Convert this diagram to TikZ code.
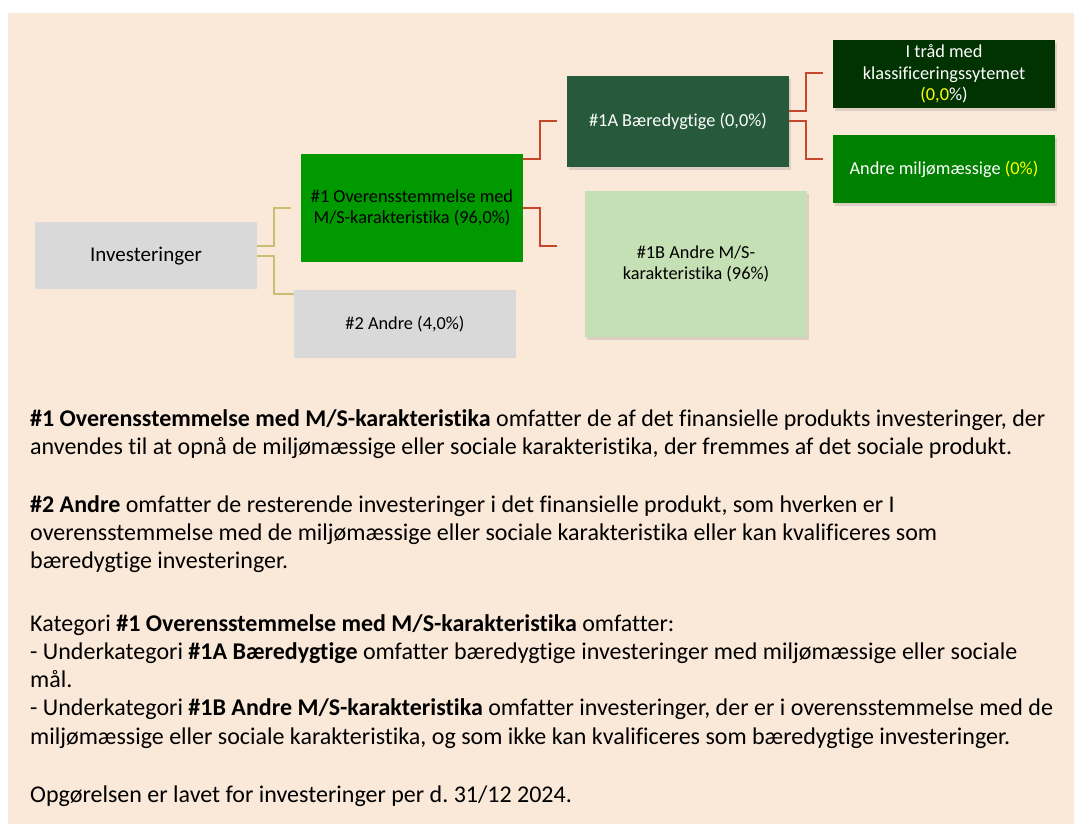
\documentclass[tikz,border=0pt]{standalone}
\usepackage{fontspec}
\setmainfont{Carlito}[Ligatures={NoCommon}]
\usetikzlibrary{shadows}
\definecolor{bg}{HTML}{FAE9D9}
\definecolor{greyb}{HTML}{D9D9D9}
\definecolor{gone}{HTML}{009900}
\definecolor{gonea}{HTML}{265A3B}
\definecolor{goneb}{HTML}{C5E0B4}
\definecolor{gtr}{HTML}{013300}
\definecolor{gam}{HTML}{008000}
\definecolor{redc}{HTML}{C8472C}
\definecolor{yelc}{HTML}{CBBE74}
\definecolor{yeltxt}{HTML}{FFFF00}
\frenchspacing
\begin{document}
\begin{tikzpicture}[x=1pt,y=-1pt,
  box/.style={rectangle, inner sep=0pt, minimum width=222pt, align=center,
    font=\fontsize{18.3}{21.5}\selectfont},
  shad/.style={drop shadow={shadow xshift=2pt,shadow yshift=-3pt,opacity=0.2,fill=black!60}},
  rconn/.style={draw=redc, line width=2pt},
  yconn/.style={draw=yelc, line width=1.6pt},
  body/.style={anchor=base west, inner sep=0pt, font=\fontsize{24}{28}\selectfont}]
\useasboundingbox (0,0) rectangle (1074,824);
\fill[bg] (8,13) rectangle (1074,824);

% boxes
\node[box, fill=greyb, minimum height=67.3pt, font=\fontsize{21}{25}\selectfont] (inv) at (146,255.7) {Investeringer};
\node[box, fill=gone, minimum height=108pt] (one) at (412,208) {\#1 Overensstemmelse med\\M/S-karakteristika (96,0\%)};
\node[box, fill=greyb, minimum height=68pt] (two) at (405,324) {\#2 Andre (4,0\%)};
\node[box, shad, fill=gonea, text=white, minimum height=91pt] (onea) at (678,121.5) {\#1A Bæredygtige (0,0\%)};
\node[box, shad, fill=goneb, minimum height=146pt] (oneb) at (696,264) {\#1B Andre M/S-\\karakteristika (96\%)};
\node[box, shad, fill=gtr, text=white, minimum height=68pt] (trad) at (944,74) {I tråd med\\klassificeringssytemet\\\textcolor{yeltxt}{(0,0}\%)};
\node[box, shad, fill=gam, text=white, minimum height=68pt] (andm) at (944,169) {Andre miljømæssige \textcolor{yeltxt}{(0\%)}};

% connector ends
\coordinate (eone) at (291,208);
\coordinate (eonea) at (557,121);
\coordinate (eoneb) at (557,246);
\coordinate (etrad) at (823,73);
\coordinate (eandm) at (823,159);

% connectors
\draw[yconn] (inv.east |- 0,246) -| (274,208) -- (eone);
\draw[yconn] (inv.east |- 0,256) -| (274,294) -- (two.west |- 0,294);
\draw[rconn] (one.east |- 0,159) -| (540,121) -- (eonea);
\draw[rconn] (one.east |- 0,208) -| (540,246) -- (eoneb);
\draw[rconn] (onea.east |- 0,111) -| (806,73) -- (etrad);
\draw[rconn] (onea.east |- 0,121) -| (806,159) -- (eandm);

% body text
\node[body] (t1) at (30,426) {\textbf{\#1 Overensstemmelse med M/S-karakteristika} omfatter de af det finansielle produkts investeringer, der};
\node[body] (t2) at (30,454) {anvendes til at opnå de miljømæssige eller sociale karakteristika, der fremmes af det sociale produkt.};
\node[body] (t3) at (30,512.7) {\textbf{\#2 Andre} omfatter de resterende investeringer i det finansielle produkt, som hverken er I};
\node[body] (t4) at (30,540.3) {overensstemmelse med de miljømæssige eller sociale karakteristika eller kan kvalificeres som};
\node[body] (t5) at (30,568.3) {bæredygtige investeringer.};
\node[body] (t6) at (30,631) {Kategori \textbf{\#1 Overensstemmelse med M/S-karakteristika} omfatter:};
\node[body] (t7) at (30,659) {- Underkategori \textbf{\#1A Bæredygtige} omfatter bæredygtige investeringer med miljømæssige eller sociale};
\node[body] (t8) at (30,687.3) {mål.};
\node[body] (t9) at (30,715.7) {- Underkategori \textbf{\#1B Andre M/S-karakteristika} omfatter investeringer, der er i overensstemmelse med de};
\node[body] (t10) at (30,744) {miljømæssige eller sociale karakteristika, og som ikke kan kvalificeres som bæredygtige investeringer.};
\node[body] (t11) at (30,802.3) {Opgørelsen er lavet for investeringer per d. 31/12 2024.};
\end{tikzpicture}
\end{document}
